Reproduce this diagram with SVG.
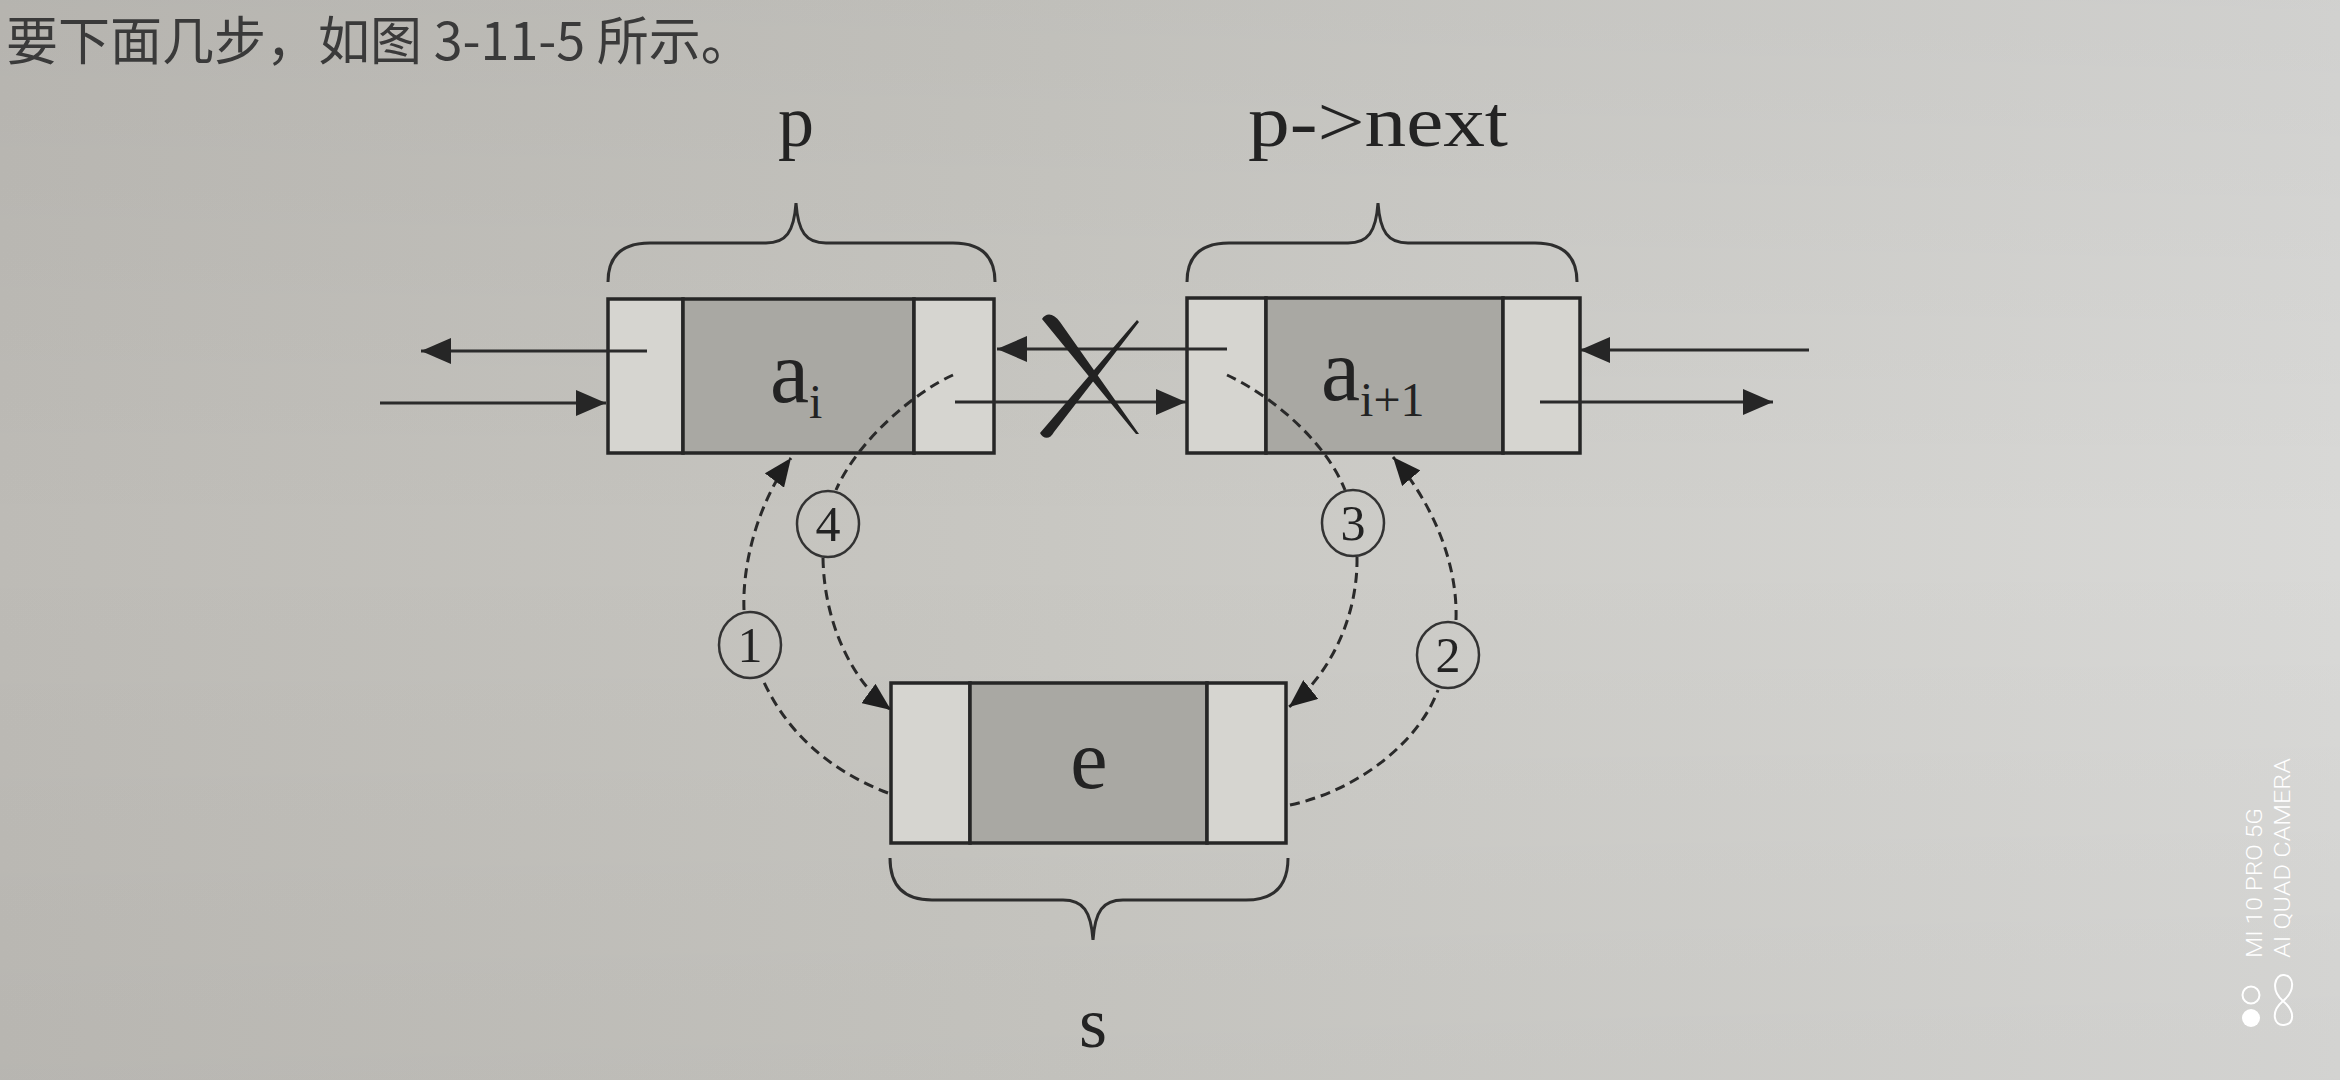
<svg xmlns="http://www.w3.org/2000/svg" width="2340" height="1080" viewBox="0 0 2340 1080">
<defs>
<linearGradient id="bg" x1="0" y1="0" x2="1" y2="0">
<stop offset="0" stop-color="#bdbbb6"/>
<stop offset="0.45" stop-color="#c8c7c2"/>
<stop offset="1" stop-color="#d9d9d7"/>
</linearGradient>
<linearGradient id="bgv" x1="0" y1="0" x2="0" y2="1">
<stop offset="0" stop-color="#000" stop-opacity="0.04"/>
<stop offset="0.5" stop-color="#000" stop-opacity="0"/>
<stop offset="1" stop-color="#000" stop-opacity="0.03"/>
</linearGradient>
<marker id="ah" markerUnits="userSpaceOnUse" viewBox="0 0 30 26" refX="30" refY="13" markerWidth="30" markerHeight="26" orient="auto">
<path d="M0,0 L30,13 L0,26 z" fill="#262626"/>
</marker>
<marker id="ahd" markerUnits="userSpaceOnUse" viewBox="0 0 28 24" refX="28" refY="12" markerWidth="28" markerHeight="24" orient="auto">
<path d="M0,0 L28,12 L0,24 z" fill="#1e1e1e"/>
</marker>
</defs>
<style>
.cell{fill:#d6d5d0;stroke:#262626;stroke-width:3.5}
.data{fill:#a9a8a3;stroke:#262626;stroke-width:3.5}
.lbl{font-family:"Liberation Serif","Times New Roman",serif;fill:#232323}
.brace{fill:none;stroke:#2e2e2e;stroke-width:3}
.solid{fill:none;stroke:#2b2b2b;stroke-width:3;marker-end:url(#ah)}
.dash{fill:none;stroke:#2a2a2a;stroke-width:3;stroke-dasharray:10 6}
.dashA{fill:none;stroke:#2a2a2a;stroke-width:3;stroke-dasharray:10 6;marker-end:url(#ahd)}
.num{fill:none;stroke:#333;stroke-width:2.5}
.wm{font-family:Roboto,"Noto Sans",sans-serif;font-weight:300;fill:#ffffff;font-size:22px}
</style>
<rect width="2340" height="1080" fill="url(#bg)"/>
<rect width="2340" height="1080" fill="url(#bgv)"/>

<text x="6" y="60" font-family="'Noto Sans CJK SC',sans-serif" font-size="52" fill="#3a3a3a">要下面几步，如图 3-11-5 所示。</text>

<g id="node-p">
<rect class="cell" x="608" y="299" width="75" height="154"/>
<rect class="data" x="683" y="299" width="231" height="154"/>
<rect class="cell" x="914" y="299" width="80" height="154"/>
<text class="lbl" x="770" y="402" font-size="88">a<tspan font-size="48" dy="16">i</tspan></text>
</g>
<g id="node-pnext">
<rect class="cell" x="1187" y="298" width="79" height="155"/>
<rect class="data" x="1266" y="298" width="237" height="155"/>
<rect class="cell" x="1503" y="298" width="77" height="155"/>
<text class="lbl" x="1321" y="400" font-size="88">a<tspan font-size="48" dy="16">i+1</tspan></text>
</g>
<g id="node-s">
<rect class="cell" x="891" y="683" width="79" height="160"/>
<rect class="data" x="970" y="683" width="237" height="160"/>
<rect class="cell" x="1207" y="683" width="79" height="160"/>
<text class="lbl" x="1089" y="788" font-size="84" text-anchor="middle">e</text>
</g>

<g id="labels">
<path class="brace" d="M608,282 C608,258 620,243 650,243 L766,243 C786,243 794,232 796,203 C798,232 806,243 826,243 L953,243 C983,243 995,258 995,282"/>
<text class="lbl" x="796" y="146" font-size="72" text-anchor="middle">p</text>
<path class="brace" d="M1187,282 C1187,258 1199,243 1229,243 L1348,243 C1368,243 1376,232 1378,203 C1380,232 1388,243 1408,243 L1535,243 C1565,243 1577,258 1577,282"/>
<text class="lbl" x="1248" y="146" font-size="72" textLength="260" lengthAdjust="spacingAndGlyphs">p-&gt;next</text>
<path class="brace" d="M890,858 C890,884 902,900 932,900 L1063,900 C1083,900 1091,911 1093,940 C1095,911 1103,900 1123,900 L1246,900 C1276,900 1288,884 1288,858"/>
<text class="lbl" x="1093" y="1047" font-size="72" text-anchor="middle">s</text>
</g>

<g id="connectors">
<path class="solid" d="M647,351 L421,351"/>
<path class="solid" d="M380,403 L606,403"/>
<path class="solid" d="M1227,349 L997,349"/>
<path class="solid" d="M955,402 L1186,402"/>
<path class="solid" d="M1809,350 L1580,350"/>
<path class="solid" d="M1540,402 L1773,402"/>
<path d="M1042,319 C1046,312 1054,313 1060,322 L1139,434 L1136,434 Z" fill="#222"/>
<path d="M1040,433 C1043,439 1050,440 1054,432 L1139,322 L1137,320 Z" fill="#222"/>

<path class="dash" d="M888,793 C840,775 790,740 763,680"/>
<path class="dashA" d="M744,610 C742,560 760,500 791,458"/>
<path class="dash" d="M1290,805 C1360,790 1420,740 1438,690"/>
<path class="dashA" d="M1456,620 C1458,560 1430,500 1393,457"/>
<path class="dash" d="M1227,375 C1270,395 1325,440 1345,490"/>
<path class="dashA" d="M1357,557 C1358,610 1335,670 1289,707"/>
<path class="dash" d="M953,375 C915,392 858,440 836,490"/>
<path class="dashA" d="M823,558 C824,620 850,680 891,710"/>
</g>

<g id="step-1"><ellipse class="num" cx="750" cy="645" rx="31" ry="33"/><text class="lbl" x="750" y="662" font-size="50" text-anchor="middle">1</text></g>
<g id="step-2"><ellipse class="num" cx="1448" cy="655" rx="31" ry="33"/><text class="lbl" x="1448" y="672" font-size="50" text-anchor="middle">2</text></g>
<g id="step-3"><ellipse class="num" cx="1353" cy="523" rx="31" ry="33"/><text class="lbl" x="1353" y="540" font-size="50" text-anchor="middle">3</text></g>
<g id="step-4"><ellipse class="num" cx="828" cy="524" rx="31" ry="33"/><text class="lbl" x="828" y="541" font-size="50" text-anchor="middle">4</text></g>

<g id="watermark">
<text class="wm" transform="translate(2262,958) rotate(-90)" textLength="150" lengthAdjust="spacingAndGlyphs">MI 10 PRO 5G</text>
<text class="wm" transform="translate(2290,958) rotate(-90)" textLength="200" lengthAdjust="spacingAndGlyphs">AI QUAD CAMERA</text>
<circle cx="2251" cy="995" r="8.5" fill="none" stroke="#fff" stroke-width="2"/>
<circle cx="2251" cy="1018" r="9" fill="#fff"/>
<path d="M2283,1001 C2270,990 2275,974 2284,975 C2294,976 2296,990 2283,1001 C2270,1012 2274,1026 2284,1025 C2294,1024 2296,1012 2283,1001" fill="none" stroke="#fff" stroke-width="2"/>
</g>
</svg>
